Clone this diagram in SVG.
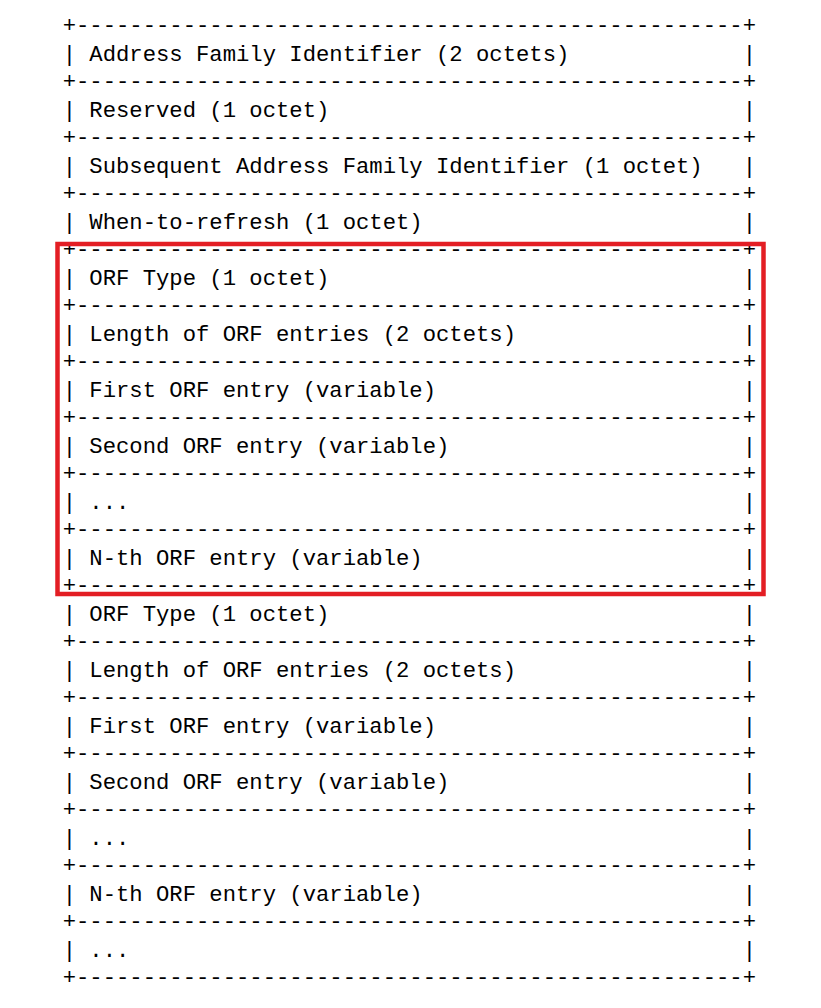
<svg xmlns="http://www.w3.org/2000/svg" width="821" height="1008" viewBox="0 0 821 1008">
<style>
text{font-family:"Liberation Mono","DejaVu Sans Mono",monospace;font-size:22.22px;fill:#000;white-space:pre}
.hl{fill:none;stroke:#e31e24;stroke-width:4.5}
</style>
<defs>
<text id="bd" x="62.67" y="0" xml:space="preserve">+--------------------------------------------------+</text>
<g id="bars"><text x="62.67" y="0">|</text><text x="742.67" y="0">|</text></g>
</defs>
<rect width="821" height="1008" fill="#fff"/>
<g id="connectors">
<use href="#bd" y="31.5"/><use href="#bd" y="87.5"/><use href="#bd" y="143.5"/><use href="#bd" y="199.5"/>
<use href="#bd" y="255.5"/><use href="#bd" y="311.5"/><use href="#bd" y="367.5"/><use href="#bd" y="423.5"/>
<use href="#bd" y="479.5"/><use href="#bd" y="535.5"/><use href="#bd" y="591.5"/><use href="#bd" y="647.5"/>
<use href="#bd" y="703.5"/><use href="#bd" y="759.5"/><use href="#bd" y="815.5"/><use href="#bd" y="871.5"/>
<use href="#bd" y="927.5"/><use href="#bd" y="983.5"/>
</g>
<g id="row1"><use href="#bars" y="60.5"/><text x="89.33" y="60.5">Address Family Identifier (2 octets)</text></g>
<g id="row2"><use href="#bars" y="116.5"/><text x="89.33" y="116.5">Reserved (1 octet)</text></g>
<g id="row3"><use href="#bars" y="172.5"/><text x="89.33" y="172.5">Subsequent Address Family Identifier (1 octet)</text></g>
<g id="row4"><use href="#bars" y="228.5"/><text x="89.33" y="228.5">When-to-refresh (1 octet)</text></g>
<g id="row5"><use href="#bars" y="284.5"/><text x="89.33" y="284.5">ORF Type (1 octet)</text></g>
<g id="row6"><use href="#bars" y="340.5"/><text x="89.33" y="340.5">Length of ORF entries (2 octets)</text></g>
<g id="row7"><use href="#bars" y="396.5"/><text x="89.33" y="396.5">First ORF entry (variable)</text></g>
<g id="row8"><use href="#bars" y="452.5"/><text x="89.33" y="452.5">Second ORF entry (variable)</text></g>
<g id="row9"><use href="#bars" y="508.5"/><text x="89.33" y="508.5">...</text></g>
<g id="row10"><use href="#bars" y="564.5"/><text x="89.33" y="564.5">N-th ORF entry (variable)</text></g>
<g id="row11"><use href="#bars" y="620.5"/><text x="89.33" y="620.5">ORF Type (1 octet)</text></g>
<g id="row12"><use href="#bars" y="676.5"/><text x="89.33" y="676.5">Length of ORF entries (2 octets)</text></g>
<g id="row13"><use href="#bars" y="732.5"/><text x="89.33" y="732.5">First ORF entry (variable)</text></g>
<g id="row14"><use href="#bars" y="788.5"/><text x="89.33" y="788.5">Second ORF entry (variable)</text></g>
<g id="row15"><use href="#bars" y="844.5"/><text x="89.33" y="844.5">...</text></g>
<g id="row16"><use href="#bars" y="900.5"/><text x="89.33" y="900.5">N-th ORF entry (variable)</text></g>
<g id="row17"><use href="#bars" y="956.5"/><text x="89.33" y="956.5">...</text></g>
<g id="highlight"><rect class="hl" x="57.5" y="244" width="706" height="350"/></g>
</svg>
